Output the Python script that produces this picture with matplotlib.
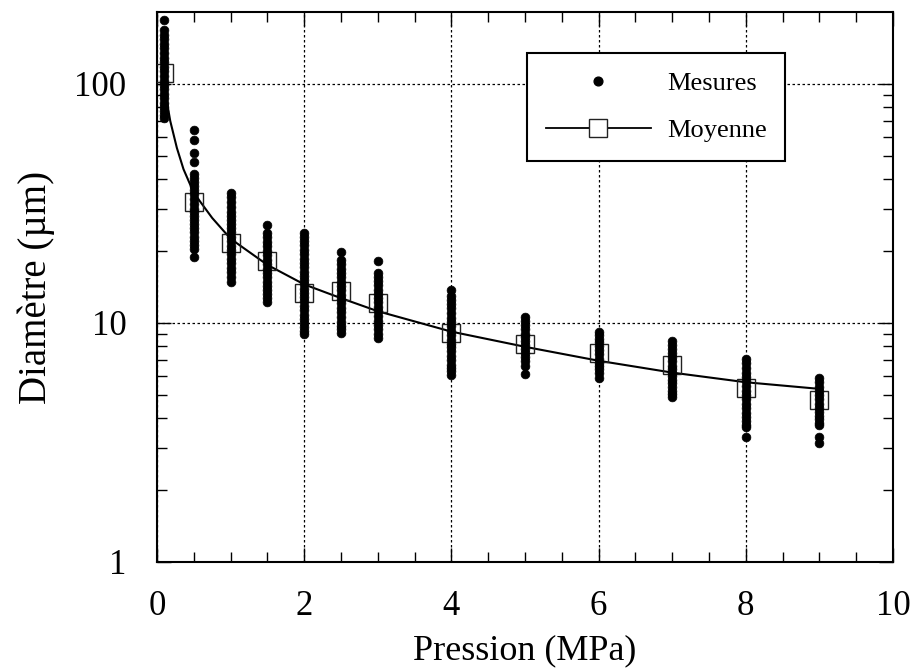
import matplotlib
matplotlib.use('Agg')
import matplotlib.pyplot as plt
from matplotlib.ticker import MultipleLocator, FixedLocator, FixedFormatter, NullFormatter
from matplotlib.lines import Line2D

plt.rcParams['font.family'] = ['Liberation Serif', 'DejaVu Serif']

# ---- data ----
pressions = [0.1, 0.5, 1, 1.5, 2, 2.5, 3, 4, 5, 6, 7, 8, 9]

mesures_010 = [185, 168, 161, 154, 147, 141, 135, 129, 123, 118, 113, 108, 103, 99, 95, 91, 87, 83, 80, 77, 74, 72]
mesures_050 = [64, 58, 51.5, 47, 42, 40.5, 39, 37.5, 36, 34.5, 33, 31.5, 30, 29, 28, 27, 26, 25, 24, 23, 22, 21.2, 20.4, 18.9]
mesures_100 = [35, 33.5, 32, 30.5, 29, 28, 27, 26, 25, 24, 23, 22, 21, 20.2, 19.4, 18.6, 17.8, 17, 16.3, 15.6, 14.8]
mesures_150 = [25.6, 23.8, 22.8, 21.8, 20.9, 20, 19.2, 18.4, 17.6, 16.9, 16.2, 15.5, 14.9, 14.3, 13.7, 13.2, 12.7, 12.2]
mesures_200 = [23.9, 22.9, 22, 21.1, 20.2, 19.4, 18.6, 17.8, 17.1, 16.4, 15.7, 15.1, 14.5, 13.9, 13.3, 12.8, 12.3, 11.8, 11.3, 10.8, 10.4, 10, 9.6, 9.3, 9.0]
mesures_250 = [19.8, 18.3, 17.6, 16.9, 16.2, 15.5, 14.9, 14.3, 13.7, 13.1, 12.6, 12.1, 11.6, 11.1, 10.6, 10.1, 9.7, 9.4, 9.1]
mesures_300 = [18.2, 16.2, 15.6, 15, 14.4, 13.8, 13.2, 12.7, 12.2, 11.7, 11.2, 10.7, 10.2, 9.8, 9.4, 9.0, 8.65]
mesures_400 = [13.7, 13, 12.5, 12, 11.5, 11, 10.5, 10.1, 9.7, 9.3, 8.9, 8.5, 8.2, 7.9, 7.6, 7.3, 7, 6.7, 6.5, 6.3, 6.06]
mesures_500 = [10.6, 10.2, 9.8, 9.4, 9, 8.7, 8.4, 8.1, 7.8, 7.5, 7.2, 6.9, 6.6, 6.1]
mesures_600 = [9.2, 8.9, 8.6, 8.3, 8, 7.7, 7.4, 7.1, 6.8, 6.6, 6.4, 6.2, 5.9]
mesures_700 = [8.4, 8.1, 7.8, 7.5, 7.2, 6.9, 6.6, 6.4, 6.2, 6, 5.8, 5.6, 5.4, 5.2, 5.05, 4.9]
mesures_800 = [7.1, 6.8, 6.5, 6.2, 5.95, 5.7, 5.45, 5.2, 5, 4.8, 4.6, 4.4, 4.2, 4.05, 3.9, 3.75, 3.67, 3.34]
mesures_900 = [5.9, 5.65, 5.4, 5.2, 5, 4.8, 4.6, 4.4, 4.25, 4.1, 3.95, 3.8, 3.74, 3.34, 3.15]

mesures = [mesures_010, mesures_050, mesures_100, mesures_150, mesures_200, mesures_250,
           mesures_300, mesures_400, mesures_500, mesures_600, mesures_700, mesures_800, mesures_900]

moyennes = [111, 32, 21.6, 18.2, 13.3, 13.6, 12.1, 9.1, 8.2, 7.5, 6.7, 5.35, 4.76]

courbe_x = [0.1, 0.18, 0.27, 0.36, 0.5, 0.75, 1.0, 1.5, 2.0, 2.5, 3.0, 4.0, 5.0, 6.0, 7.0, 8.0, 9.0]
courbe_y = [97, 70, 54, 44, 35, 27.5, 22.5, 17.5, 14.5, 12.7, 11.2, 9.2, 7.95, 6.95, 6.2, 5.65, 5.3]

xticks = [0, 2, 4, 6, 8, 10]
xticklabels = ['0', '2', '4', '6', '8', '10']
yticks = [1, 10, 100]
yticklabels = ['1', '10', '100']

# ---- figure ----
W, H = 913, 670
fig = plt.figure(figsize=(W / 100, H / 100), dpi=100)
L, R, T, B = 157, 893, 12, 562
ax = fig.add_axes([L / W, 1 - B / H, (R - L) / W, (B - T) / H])

ax.set_yscale('log')
ax.set_xlim(0, 10)
ax.set_ylim(1, 200)

ax.plot(courbe_x, courbe_y, '-', color='black', lw=1.5, zorder=2)
ax.plot(pressions, moyennes, 's', ms=13, mfc='none', mec='#222222', mew=1.0, zorder=3)
for p, vals in zip(pressions, mesures):
    ax.plot([p] * len(vals), vals, 'o', color='black', ms=6.3, mec='black', mew=0.5, zorder=4)

ax.xaxis.set_major_locator(FixedLocator(xticks))
ax.xaxis.set_major_formatter(FixedFormatter(xticklabels))
ax.xaxis.set_minor_locator(MultipleLocator(0.5))
ax.yaxis.set_major_locator(FixedLocator(yticks))
ax.yaxis.set_major_formatter(FixedFormatter(yticklabels))
minor_y = [m * d for d in (1, 10, 100) for m in range(2, 10) if m * d < 200]
ax.yaxis.set_minor_locator(FixedLocator(minor_y))
ax.yaxis.set_minor_formatter(NullFormatter())

ax.tick_params(which='both', direction='in', top=True, right=True, colors='black')
ax.tick_params(which='major', length=10, width=1.0, labelsize=25)
ax.tick_params(which='minor', length=7, width=1.0)
ax.tick_params(axis='x', which='major', pad=20)
ax.tick_params(axis='y', which='major', pad=22)

ax.grid(True, which='major', color='black', linestyle=(0, (2, 2)), linewidth=0.9)
for s in ax.spines.values():
    s.set_linewidth(1.5)

ax.set_xlabel('Pression (MPa)', fontsize=26, labelpad=8)
ax.set_ylabel('Diamètre (µm)', fontsize=28, labelpad=14)

handles = [
    Line2D([], [], ls='none', marker='o', color='black', ms=6.3),
    Line2D([], [], ls='-', color='black', lw=1.3, marker='s', ms=13,
           mfc='white', mec='#222222', mew=1.0),
]
leg = ax.legend(handles, ['Mesures', 'Moyenne'], loc='upper left',
                bbox_to_anchor=(0.503, 0.925), borderaxespad=0, fontsize=19,
                handlelength=4, handletextpad=0.6, borderpad=0.7, labelspacing=0.9,
                frameon=True, fancybox=False, edgecolor='black', framealpha=1)
leg.get_frame().set_linewidth(1.5)
leg.set_zorder(10)

fig.savefig('out.png', dpi=100)
